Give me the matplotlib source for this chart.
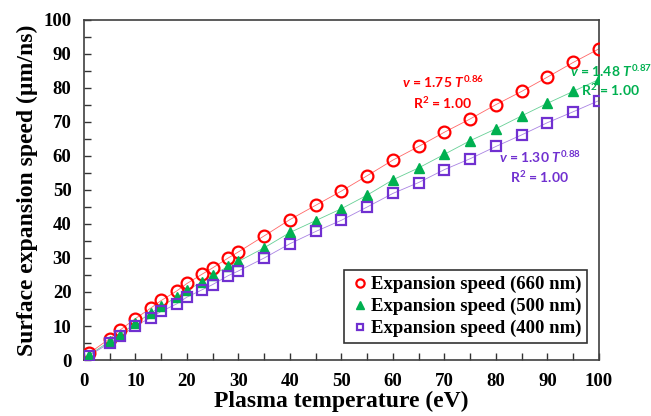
import numpy as np
import matplotlib
matplotlib.use('Agg')
import matplotlib.pyplot as plt

# plasma temperature (eV)
temp = [1, 5, 7, 10, 13, 15, 18, 20, 23, 25, 28, 30, 35, 40, 45, 50,
        55, 60, 65, 70, 75, 80, 85, 90, 95, 100]

# surface expansion speed (um/ns)
v660 = [2.0, 6.3, 8.8, 12.2, 15.3, 17.5, 20.3, 22.5, 25.3, 27.1, 30.0, 31.8, 36.5, 41.3,
        45.5, 49.7, 54.2, 58.8, 62.8, 67.0, 70.9, 75.1, 79.0, 83.2, 87.5, 91.5]
v500 = [1.5, 5.5, 7.5, 10.8, 13.8, 15.8, 18.5, 20.5, 23.0, 25.0, 27.5, 29.0, 33.0, 37.5,
        41.0, 44.5, 48.5, 53.0, 56.5, 60.5, 64.5, 68.0, 71.8, 75.5, 79.0, 82.5]
v400 = [1.3, 5.0, 7.0, 10.0, 12.5, 14.3, 16.5, 18.5, 20.7, 22.2, 24.8, 26.2, 30.0, 34.2,
        37.8, 41.1, 45.0, 49.0, 52.2, 56.0, 59.2, 62.8, 66.2, 69.8, 73.0, 76.3]

labels = ['Expansion speed (660 nm)', 'Expansion speed (500 nm)', 'Expansion speed (400 nm)']
fits = [('1.75', '0.86'), ('1.48', '0.87'), ('1.30', '0.88')]

RED = '#ff0000'
GREEN = '#00b050'
PURPLE = '#7030d0'

plt.rcParams['mathtext.fontset'] = 'custom'
plt.rcParams['mathtext.it'] = 'Lato:italic:bold'
plt.rcParams['mathtext.bf'] = 'Lato:bold'
plt.rcParams['mathtext.rm'] = 'Lato:bold'

fig = plt.figure(figsize=(6.51, 4.16), dpi=100)
ax = fig.add_axes([0.129, 0.1346, 0.791, 0.8174])

ax.plot(temp, v660, color=RED, lw=0.6, alpha=0.6, zorder=1)
ax.plot(temp, v500, color=GREEN, lw=0.6, alpha=0.6, zorder=1)
ax.plot(temp, v400, color=PURPLE, lw=0.6, alpha=0.6, zorder=1)

ax.plot(temp, v660, 'o', ms=8.5, mfc='none', mec=RED, mew=1.6, label=labels[0], zorder=3)
ax.plot(temp, v500, '^', ms=7.5, mfc=GREEN, mec=GREEN, label=labels[1], zorder=3)
ax.plot(temp, v400, 's', ms=7, mfc='none', mec=PURPLE, mew=1.6, label=labels[2], zorder=3)

ax.set_xlim(0, 100)
ax.set_ylim(0, 100)
ax.set_xticks(np.arange(0, 101, 10))
ax.set_yticks(np.arange(0, 101, 10))
ax.set_xticks(np.arange(5, 100, 10), minor=True)
ax.set_yticks(np.arange(5, 100, 10), minor=True)
ax.tick_params(which='both', direction='in', length=5, width=1, color='#333333')
ax.tick_params(which='both', top=False, right=False)
ax.tick_params(axis='both', labelsize=13.5, pad=9)
for lab in ax.get_xticklabels() + ax.get_yticklabels():
    lab.set_fontfamily('Liberation Serif')
    lab.set_fontweight('bold')
for sp in ax.spines.values():
    sp.set_color('#404040')
    sp.set_linewidth(1.2)

ax.set_xlabel('Plasma temperature (eV)', fontfamily='Liberation Serif',
              fontweight='bold', fontsize=17, labelpad=1)
ax.set_ylabel('Surface expansion speed (\u00b5m/ns)', fontfamily='Liberation Serif',
              fontweight='bold', fontsize=17, labelpad=4)

ann = dict(fontfamily='Lato', fontweight='bold', fontsize=10, ha='center', va='center')
ax.text(69.7, 81.8, r'$v$ = %s $T^{\mathbf{%s}}$' % fits[0], color=RED, **ann)
ax.text(69.7, 75.6, r'R$^{\mathbf{2}}$ = 1.00', color=RED, **ann)
ax.text(102.3, 85.0, r'$v$ = %s $T^{\mathbf{%s}}$' % fits[1], color=GREEN, **ann)
ax.text(102.3, 79.4, r'R$^{\mathbf{2}}$ = 1.00', color=GREEN, **ann)
ax.text(88.5, 59.7, r'$v$ = %s $T^{\mathbf{%s}}$' % fits[2], color=PURPLE, **ann)
ax.text(88.5, 53.8, r'R$^{\mathbf{2}}$ = 1.00', color=PURPLE, **ann)

leg = ax.legend(loc='lower right', bbox_to_anchor=(0.977, 0.05), borderaxespad=0,
                fancybox=False, handletextpad=0.05, handlelength=1.1, borderpad=0.3,
                labelspacing=0.25, markerscale=0.7,
                prop={'family': 'Liberation Serif', 'weight': 'bold', 'size': 13.5})
leg.get_frame().set_edgecolor('black')
leg.get_frame().set_linewidth(1.2)

fig.savefig('out.png', dpi=100)
